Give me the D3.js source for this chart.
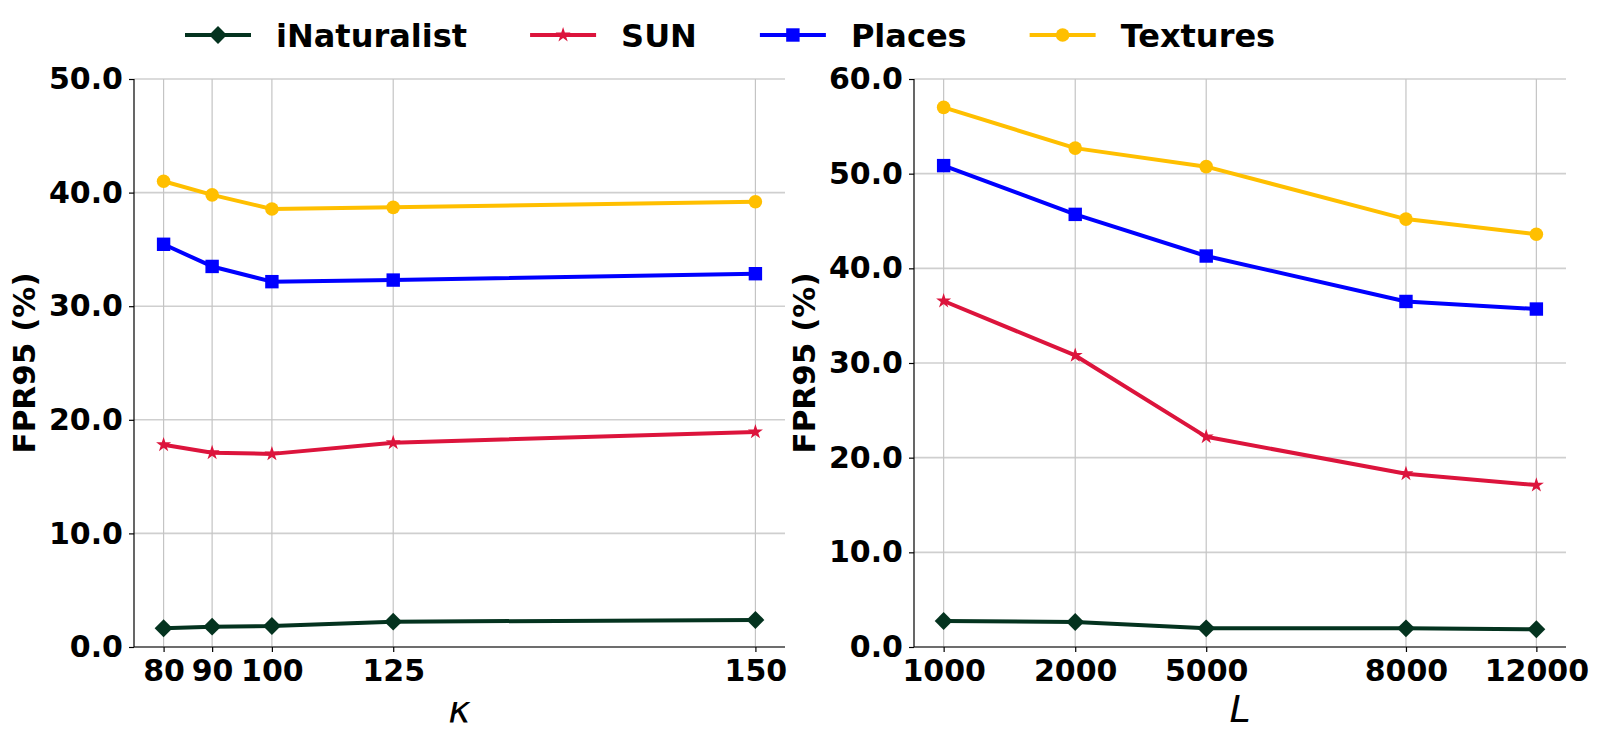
<!DOCTYPE html>
<html>
<head>
<meta charset="utf-8">
<script src="https://cdn.jsdelivr.net/npm/d3@7"></script>
<style>
  html, body { margin: 0; padding: 0; background: #fff; }
  svg { display: block; font-family: "DejaVu Sans", sans-serif; }
</style>
</head>
<body>
<div id="chart"></div>
<script>
// x ticks of each panel
const kappaTicks = [80, 90, 100, 125, 150];
const lengthTicks = [1000, 2000, 5000, 8000, 12000];
// the x axes are not linear in the value: slot of each tick as fraction of the data span
const kappaSlots = [0, 0.082, 0.183, 0.388, 1];
const lengthSlots = [0, 0.222, 0.443, 0.78, 1];

// FPR95 (%) vs kappa
const kappaINat = [1.65, 1.79, 1.85, 2.23, 2.38];
const kappaSUN = [17.8, 17.1, 17.0, 17.98, 18.93];
const kappaPlaces = [35.45, 33.5, 32.16, 32.3, 32.86];
const kappaTextures = [41.0, 39.8, 38.56, 38.7, 39.2];

// FPR95 (%) vs L
const lengthINat = [2.75, 2.64, 1.97, 1.97, 1.87];
const lengthSUN = [36.55, 30.8, 22.2, 18.3, 17.1];
const lengthPlaces = [50.85, 45.7, 41.3, 36.5, 35.7];
const lengthTextures = [57.0, 52.7, 50.74, 45.2, 43.6];

const seriesNames = ['iNaturalist', 'SUN', 'Places', 'Textures'];
const seriesColors = ['#04331f', '#dc143c', '#0000ff', '#ffbf00'];
const seriesMarkers = ['diamond', 'star', 'square', 'circle'];

const kappaYTicks = [0, 10, 20, 30, 40, 50];
const lengthYTicks = [0, 10, 20, 30, 40, 50, 60];

const W = 1600, H = 740;
const svg = d3.select('#chart').append('svg')
  .attr('width', W)
  .attr('height', H);

const TICK_FONT = 30;

function markerPath(kind) {
  if (kind === 'diamond') return d3.symbol(d3.symbolSquare, 160)();
  if (kind === 'star') return d3.symbol(d3.symbolStar, 70)();
  if (kind === 'square') return d3.symbol(d3.symbolSquare, 180)();
  return d3.symbol(d3.symbolCircle, 145)();
}
function markerRotate(kind) {
  return kind === 'diamond' ? ' rotate(45)' : '';
}

function drawPanel(opts) {
  const { left, right, top, bottom, ticks, slots, yMax, yTicks, series, xLabel } = opts;
  const g = svg.append('g');

  // 5% margin on each side like matplotlib autoscale
  const span = right - left;
  const inner = d3.scaleLinear().domain([0, 1]).range([left + span * 0.05 / 1.1, right - span * 0.05 / 1.1]);
  const x = d3.scaleLinear().domain(ticks).range(slots.map(s => inner(s)));
  const y = d3.scaleLinear().domain([0, yMax]).range([bottom, top]);

  // grid
  g.append('g').selectAll('line.hg').data(yTicks).join('line')
    .attr('x1', left).attr('x2', right)
    .attr('y1', d => y(d)).attr('y2', d => y(d))
    .attr('stroke', '#cfcfcf').attr('stroke-width', 1.6);
  g.append('g').selectAll('line.vg').data(ticks).join('line')
    .attr('x1', d => x(d)).attr('x2', d => x(d))
    .attr('y1', top).attr('y2', bottom)
    .attr('stroke', '#c4c4c4').attr('stroke-width', 1.2);

  // axes
  const yAxis = g.append('g')
    .attr('transform', `translate(${left},0)`)
    .call(d3.axisLeft(y).tickValues(yTicks).tickFormat(d3.format('.1f')).tickSize(5).tickPadding(6));
  const xAxis = g.append('g')
    .attr('transform', `translate(0,${bottom})`)
    .call(d3.axisBottom(x).tickValues(ticks).tickFormat(d => d).tickSize(5).tickPadding(8));
  [xAxis, yAxis].forEach(a => {
    a.select('.domain').attr('stroke', '#000').attr('stroke-width', 1.2);
    a.selectAll('.tick line').attr('stroke', '#000').attr('stroke-width', 1.2);
    a.selectAll('.tick text')
      .attr('fill', '#000')
      .style('font-family', '"DejaVu Sans", sans-serif')
      .style('font-size', TICK_FONT + 'px')
      .style('font-weight', 'bold');
  });
  // the domain path adds outer ticks; redraw plain spines
  yAxis.select('.domain').attr('d', `M0,${top}V${bottom}`);
  xAxis.select('.domain').attr('d', `M${left},0H${right}`);

  // lines and markers
  series.forEach((vals, i) => {
    const pts = ticks.map((t, j) => [x(t), y(vals[j])]);
    g.append('path')
      .attr('d', d3.line()(pts))
      .attr('fill', 'none')
      .attr('stroke', seriesColors[i])
      .attr('stroke-width', 4)
      .attr('stroke-linejoin', 'round');
    g.append('g').selectAll('path').data(pts).join('path')
      .attr('d', markerPath(seriesMarkers[i]))
      .attr('transform', d => `translate(${d[0]},${d[1]})${markerRotate(seriesMarkers[i])}`)
      .attr('fill', seriesColors[i]);
  });

  // labels
  g.append('text')
    .attr('transform', `translate(${left - 99},${(top + bottom) / 2}) rotate(-90)`)
    .attr('text-anchor', 'middle')
    .style('font-size', '31px')
    .style('font-weight', 'bold')
    .text('FPR95 (%)');
  g.append('text')
    .attr('x', (left + right) / 2)
    .attr('y', 722)
    .attr('text-anchor', 'middle')
    .style('font-size', '38px')
    .style('font-style', 'italic')
    .text(xLabel);
}

drawPanel({
  left: 134, right: 785, top: 79, bottom: 647,
  ticks: kappaTicks, slots: kappaSlots, yMax: 50, yTicks: kappaYTicks,
  series: [kappaINat, kappaSUN, kappaPlaces, kappaTextures], xLabel: 'κ'
});
drawPanel({
  left: 914, right: 1566, top: 79, bottom: 647,
  ticks: lengthTicks, slots: lengthSlots, yMax: 60, yTicks: lengthYTicks,
  series: [lengthINat, lengthSUN, lengthPlaces, lengthTextures], xLabel: 'L'
});

// legend across the top, matplotlib spacing
const legend = svg.append('g').attr('class', 'legend');
const LEG_FONT = 32;
let lx = 185;
const ly = 35;
seriesNames.forEach((name, i) => {
  const item = legend.append('g');
  item.append('line')
    .attr('x1', lx).attr('x2', lx + 66)
    .attr('y1', ly).attr('y2', ly)
    .attr('stroke', seriesColors[i])
    .attr('stroke-width', 4);
  item.append('path')
    .attr('d', markerPath(seriesMarkers[i]))
    .attr('transform', `translate(${lx + 33},${ly})${markerRotate(seriesMarkers[i])}`)
    .attr('fill', seriesColors[i]);
  const t = item.append('text')
    .attr('x', lx + 66 + 25)
    .attr('y', ly + 11.7)
    .style('font-size', LEG_FONT + 'px')
    .style('font-weight', 'bold')
    .text(name);
  lx = lx + 66 + 25 + t.node().getComputedTextLength() + 63;
});
</script>
</body>
</html>
